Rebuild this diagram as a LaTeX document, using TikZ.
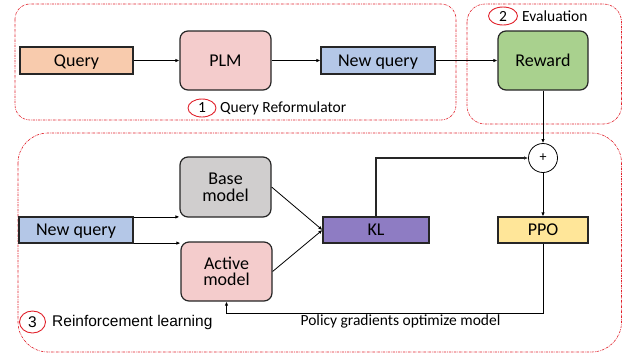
\documentclass[tikz,border=0pt]{standalone}
\usepackage{fontspec}
\setmainfont{Carlito}
\newfontfamily\arialf{Liberation Sans}
\usetikzlibrary{arrows.meta,calc,shapes.geometric}
\definecolor{cquery}{HTML}{F8CBAD}
\definecolor{cplm}{HTML}{F4CCCC}
\definecolor{cnq}{HTML}{B4C7E7}
\definecolor{crew}{HTML}{A9D18E}
\definecolor{cbase}{HTML}{D0CECE}
\definecolor{ckl}{HTML}{8E7CC3}
\definecolor{cppo}{HTML}{FFE699}
\definecolor{cborder}{HTML}{262626}
\definecolor{cred}{HTML}{E0202A}
\tikzset{
  box/.style={draw=cborder, line width=1.2pt, inner sep=0pt, align=center,
    font=\fontsize{18}{21}\selectfont},
  oneline/.style={text height=14pt, text depth=3pt},
  rbox/.style={box, rounded corners=8pt},
  region/.style={draw=cred, line width=0.6pt, dash pattern=on 2.5pt off 1pt on 0.6pt off 1pt},
  conn/.style={draw=black, line width=0.8pt, -{Latex[length=4pt,width=3.5pt]}},
  numc/.style={draw=cred, line width=0.9pt, ellipse, inner sep=0pt},
  lbl/.style={font=\fontsize{15.5}{18}\selectfont, inner sep=0pt},
}
\begin{document}
\begin{tikzpicture}[x=1pt,y=-1pt]
\useasboundingbox (0,0) rectangle (623,354);
% regions
\draw[region, rounded corners=15pt] (15,4) rectangle (456,120);
\draw[region, rounded corners=18pt] (467,4) rectangle (621.5,124);
\draw[region, rounded corners=30pt] (18,133) rectangle (621.5,352);
% nodes
\node[box, oneline, fill=cquery, minimum width=113pt, minimum height=27pt] (query) at (76.5,60.5) {Query};
\node[rbox, oneline, fill=cplm, minimum width=91pt, minimum height=59pt] (plm) at (225.5,60.5) {PLM};
\node[box, oneline, fill=cnq, minimum width=114pt, minimum height=27pt] (nq) at (378,60.5) {New query};
\node[rbox, oneline, fill=crew, minimum width=90pt, minimum height=59pt] (rew) at (543,60.5) {Reward};
\node[rbox, fill=cbase, minimum width=91pt, minimum height=60pt] (base) at (225.5,187) {\raisebox{-1.5pt}{\shortstack{Base\\[1pt]model}}};
\node[rbox, fill=cplm, minimum width=91pt, minimum height=59pt] (act) at (226.5,271.5) {\raisebox{-1.5pt}{\shortstack{Active\\[1pt]model}}};
\node[box, oneline, fill=cnq, minimum width=114pt, minimum height=26pt] (nq2) at (76,230) {New query};
\node[box, oneline, fill=ckl, minimum width=106pt, minimum height=26pt] (kl) at (376,230) {KL};
\node[box, oneline, fill=cppo, minimum width=90pt, minimum height=26pt] (ppo) at (543,230) {PPO};
\node[circle, draw=black, line width=0.8pt, minimum size=29pt, inner sep=0pt, font=\fontsize{14}{16}\selectfont] (plus) at (543,158) {+};
% labels
\node[numc, minimum width=28pt, minimum height=18pt, lbl] (n1) at (202,108) {1};
\node[lbl, anchor=west] (t1) at (220,108) {Query Reformulator};
\node[numc, minimum width=29pt, minimum height=18pt, lbl] (n2) at (503,16) {2};
\node[lbl, anchor=west] (t2) at (522,16) {Evaluation};
\node[numc, minimum width=26pt, minimum height=22pt, lbl, font=\arialf\fontsize{15.5}{18}\selectfont] (n3) at (32.5,322) {3};
\node[lbl, anchor=west, font=\arialf\fontsize{15.5}{18}\selectfont] (t3) at (52,322) {Reinforcement learning};
% connectors
\draw[conn] (query.east) -- (plm.west);
\draw[conn] (plm.east) -- (nq.west);
\draw[conn] (nq.east) -- (rew.west);
\draw[conn] (rew.south) -- (plus.north);
\draw[conn] (plus.south) -- (ppo.north);
\draw[conn, draw=cborder, line width=1.3pt] (kl.north) |- (plus.west);
\draw[conn] (base.east) -- (kl.west);
\draw[conn] (act.east) -- (kl.west);
\draw[conn] ([yshift=-0.5pt]nq2.north east) -- ([yshift=-0.5pt]nq2.north east -| base.west);
\draw[conn] ([yshift=0.5pt]nq2.south east) -- ([yshift=0.5pt]nq2.south east -| act.west);
\coordinate (turn) at (543,313);
\draw[conn] (ppo.south) -- (turn) -| (act.south);
\node[lbl, anchor=north] (pg) at (400.5,314.5) {Policy gradients optimize model};
\end{tikzpicture}
\end{document}
